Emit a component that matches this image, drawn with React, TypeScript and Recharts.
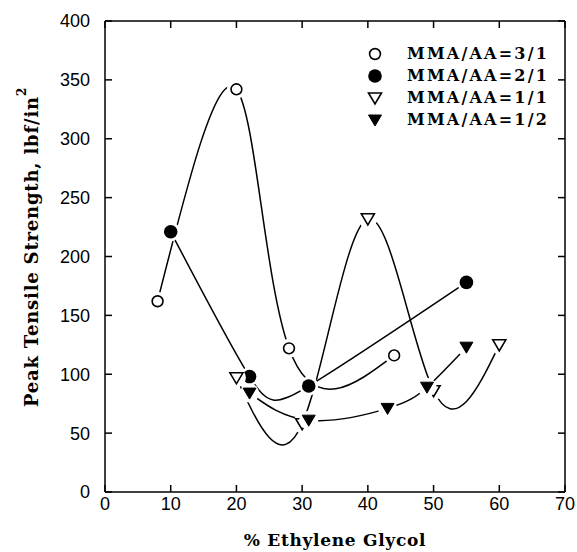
import React from "react";
import { LineChart, Line, XAxis, YAxis, Legend, Label } from "recharts";

// ---- data ----
const xTicks = [0, 10, 20, 30, 40, 50, 60, 70];
const yTicks = [0, 50, 100, 150, 200, 250, 300, 350, 400];

const seriesNames = ["MMA/AA=3/1", "MMA/AA=2/1", "MMA/AA=1/1", "MMA/AA=1/2"];

const r31Glycol = [8, 20, 28, 44];
const r31Strength = [162, 342, 122, 116];

const r21Glycol = [10, 22, 31, 55];
const r21Strength = [221, 98, 90, 178];

const r11Glycol = [20, 30, 40, 50, 60];
const r11Strength = [97, 58, 232, 86, 125];

const r12Glycol = [22, 31, 43, 49, 55];
const r12Strength = [84, 61, 71, 89, 123];

const toRows = (xs: number[], ys: number[]) => xs.map((x, i) => ({ x, y: ys[i] }));

const series = [
  { name: seriesNames[0], data: toRows(r31Glycol, r31Strength), marker: "openCircle" },
  { name: seriesNames[1], data: toRows(r21Glycol, r21Strength), marker: "filledCircle" },
  { name: seriesNames[2], data: toRows(r11Glycol, r11Strength), marker: "openTriangle" },
  { name: seriesNames[3], data: toRows(r12Glycol, r12Strength), marker: "filledTriangle" },
];

// ---- layout ----
const W = 577;
const H = 552;
const PLOT = { left: 105, top: 21, right: 565, bottom: 492 };
const TICK = 7;
const SW = 1.5;
const SANS = "'Liberation Sans', Arial, sans-serif";
const SERIF = "'DejaVu Serif', serif";

function MarkerShape({ kind, cx, cy, halo }: { kind: string; cx: number; cy: number; halo?: boolean }) {
  const haloEl = halo ? <circle cx={cx} cy={cy} r={9.5} fill="#fff" stroke="none" /> : null;
  let shape: React.ReactNode = null;
  if (kind === "openCircle") {
    shape = <circle cx={cx} cy={cy} r={5.4} fill="#fff" stroke="#000" strokeWidth={1.6} />;
  } else if (kind === "filledCircle") {
    shape = <circle cx={cx} cy={cy} r={6.8} fill="#000" stroke="none" />;
  } else {
    const pts = `${cx - 6.5},${cy - 5} ${cx + 6.5},${cy - 5} ${cx},${cy + 6}`;
    shape =
      kind === "openTriangle" ? (
        <polygon points={pts} fill="#fff" stroke="#000" strokeWidth={1.6} strokeLinejoin="miter" />
      ) : (
        <polygon points={pts} fill="#000" stroke="#000" strokeWidth={1} />
      );
  }
  return (
    <g>
      {haloEl}
      {shape}
    </g>
  );
}

const XTick = (props: any) => {
  const { x, y, payload } = props;
  const v = payload.value;
  return (
    <g>
      <line x1={x} y1={y} x2={x} y2={y - TICK} stroke="#000" strokeWidth={SW} />
      <line x1={x} y1={PLOT.top} x2={x} y2={PLOT.top + TICK} stroke="#000" strokeWidth={SW} />
      {v === 70 ? <line x1={x} y1={y} x2={x} y2={PLOT.top} stroke="#000" strokeWidth={SW} /> : null}
      <text x={x} y={y + 18} textAnchor="middle" fontFamily={SANS} fontSize={18} fill="#000">
        {v}
      </text>
    </g>
  );
};

const YTick = (props: any) => {
  const { x, y, payload } = props;
  const v = payload.value;
  return (
    <g>
      <line x1={x} y1={y} x2={x + TICK} y2={y} stroke="#000" strokeWidth={SW} />
      <line x1={PLOT.right} y1={y} x2={PLOT.right - TICK} y2={y} stroke="#000" strokeWidth={SW} />
      {v === 400 ? <line x1={x} y1={y} x2={PLOT.right} y2={y} stroke="#000" strokeWidth={SW} /> : null}
      <text x={x - 15} y={y} dy="0.36em" textAnchor="end" fontFamily={SANS} fontSize={18} fill="#000">
        {v}
      </text>
    </g>
  );
};

const LegendContent = () => (
  <div style={{ display: "flex", flexDirection: "column" }}>
    {series.map((s) => (
      <div key={s.name} style={{ display: "flex", alignItems: "center", height: 22 }}>
        <svg width={20} height={22} style={{ display: "block" }}>
          <MarkerShape kind={s.marker} cx={10} cy={11} />
        </svg>
        <span
          style={{
            marginLeft: 22,
            fontFamily: SERIF,
            fontWeight: "bold",
            fontSize: 16,
            letterSpacing: 2.2,
            lineHeight: "22px",
            color: "#000",
            whiteSpace: "nowrap",
          }}
        >
          {s.name}
        </span>
      </div>
    ))}
  </div>
);

export default function App() {
  return (
    <div style={{ position: "absolute", left: 0, top: 0, width: W, height: H, background: "#fff" }}>
      <LineChart
        width={W}
        height={H}
        margin={{ top: PLOT.top, right: W - PLOT.right, left: 0, bottom: 0 }}
      >
        <XAxis
          type="number"
          dataKey="x"
          domain={[0, 70]}
          ticks={xTicks}
          interval={0}
          height={H - PLOT.bottom}
          tickSize={0}
          tickMargin={0}
          tickLine={false}
          axisLine={{ stroke: "#000", strokeWidth: SW }}
          tick={<XTick />}
          allowDataOverflow
        >
          <Label
            content={(p: any) => {
              const vb = p.viewBox || { x: PLOT.left, y: PLOT.bottom, width: PLOT.right - PLOT.left };
              return (
                <text
                  x={vb.x + vb.width / 2}
                  y={vb.y + 54}
                  textAnchor="middle"
                  fontFamily={SERIF}
                  fontWeight="bold"
                  fontSize={17}
                  letterSpacing={0.7}
                  fill="#000"
                >
                  % Ethylene Glycol
                </text>
              );
            }}
          />
        </XAxis>
        <YAxis
          type="number"
          dataKey="y"
          domain={[0, 400]}
          ticks={yTicks}
          interval={0}
          width={PLOT.left}
          tickSize={0}
          tickMargin={0}
          tickLine={false}
          axisLine={{ stroke: "#000", strokeWidth: SW }}
          tick={<YTick />}
          allowDataOverflow
        >
          <Label
            content={() => {
              const cx = 31;
              const cy = 247;
              return (
                <text
                  x={cx}
                  y={cy}
                  transform={`rotate(-90, ${cx}, ${cy})`}
                  textAnchor="middle"
                  dominantBaseline="central"
                  fontFamily={SERIF}
                  fontWeight="bold"
                  fontSize={18}
                  letterSpacing={0.8}
                  fill="#000"
                >
                  Peak Tensile Strength, lbf/in
                  <tspan dy={-9} fontSize={12}>
                    2
                  </tspan>
                </text>
              );
            }}
          />
        </YAxis>
        <Legend
          layout="vertical"
          align="center"
          verticalAlign="middle"
          content={<LegendContent />}
          wrapperStyle={{ position: "absolute", left: 365, top: 43, width: 200, height: 90 }}
        />
        {series.map((s) => (
          <Line
            key={s.name}
            name={s.name}
            data={s.data}
            dataKey="y"
            type="natural"
            stroke="#000"
            strokeWidth={SW}
            isAnimationActive={false}
            activeDot={false}
            dot={(p: any) => (
              <MarkerShape key={`${s.name}-${p.index}`} kind={s.marker} cx={p.cx} cy={p.cy} halo />
            )}
          />
        ))}
      </LineChart>
    </div>
  );
}
